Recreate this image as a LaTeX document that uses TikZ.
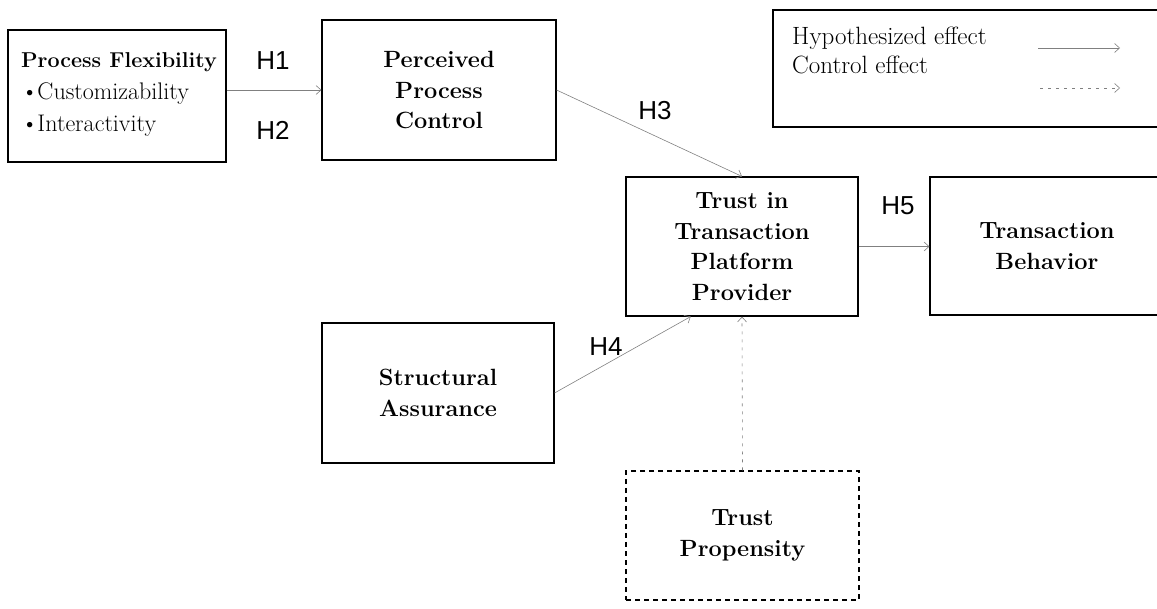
\documentclass[tikz,border=0pt]{standalone}
\usepackage{fontspec}
\newfontfamily\hfont{Liberation Sans}
\usetikzlibrary{arrows.meta,calc}
\begin{document}
\begin{tikzpicture}[x=1pt,y=-1pt,
  box/.style={draw,line width=1.1pt,inner sep=0pt},
  dbox/.style={box,dash pattern=on 5pt off 4pt},
  title/.style={font=\fontsize{23.5}{30.5}\selectfont\bfseries,align=center},
  hlab/.style={font=\hfont\fontsize{26}{26}\selectfont,inner sep=0pt},
  hyp/.style={draw=black!50,line width=0.6pt,-{Straight Barb[length=5pt,width=9pt]}},
  ctrl/.style={hyp,dash pattern=on 3pt off 5pt},
  legtext/.style={font=\fontsize{25}{27}\selectfont,anchor=base west,inner sep=0pt}]
\useasboundingbox (0,0) rectangle (1157,609);
\clip (0,0) rectangle (1157,609);

% boxes
\node[box,minimum width=218,minimum height=132] (pf) at (117,96) {};
\node[anchor=west,align=left,inner sep=0pt,font=\fontsize{24}{32}\selectfont] (pft) at (21,94)
  {{\fontsize{21.5}{32}\selectfont\bfseries Process Flexibility}\\\textbullet\kern-1pt Customizability\\\textbullet\kern-1pt Interactivity};
\node[box,title,minimum width=234,minimum height=140] (pp) at (439,90) {Perceived\\Process\\Control};
\node[box,title,minimum width=232,minimum height=139] (tr) at (742,246.5) {Trust in\\Transaction\\Platform\\Provider};
\node[box,title,minimum width=234,minimum height=138] (tb) at (1047,246) {Transaction\\Behavior};
\node[box,title,minimum width=232,minimum height=140] (sa) at (438,393) {Structural\\Assurance};
\node[dbox,title,minimum width=233,minimum height=129] (tp) at (742.5,535.5) {Trust\\Propensity};

% legend
\node[box,minimum width=397,minimum height=117] (lg) at (971.5,68.5) {};
\node[legtext] (lh) at (792,45) {Hypothesized effect};
\node[legtext] (lc) at (792,74) {Control effect};
\coordinate (lh1) at (1038,48);
\coordinate (lh2) at (1120,48);
\coordinate (lc1) at (1040,88);
\coordinate (lc2) at (1120,88);
\draw[hyp] (lh1) -- (lh2);
\draw[ctrl] (lc1) -- (lc2);

% connectors
\draw[hyp] (pf.east |- pp.west) -- (pp.west);
\draw[hyp] (pp.east) -- (tr.north);
\draw[hyp] (tr.east) -- (tb.west |- tr.east);
\coordinate (trsw) at ($(tr.south west)!0.28!(tr.south east)$);
\draw[hyp] (sa.east) -- (trsw);
\draw[ctrl] (tp.north) -- (tr.south);

% hypothesis labels
\node[hlab] (h1) at (273,61) {H1};
\node[hlab] (h2) at (273,130) {H2};
\node[hlab] (h3) at (655,111) {H3};
\node[hlab] (h4) at (606,347) {H4};
\node[hlab] (h5) at (898,206) {H5};
\end{tikzpicture}
\end{document}
